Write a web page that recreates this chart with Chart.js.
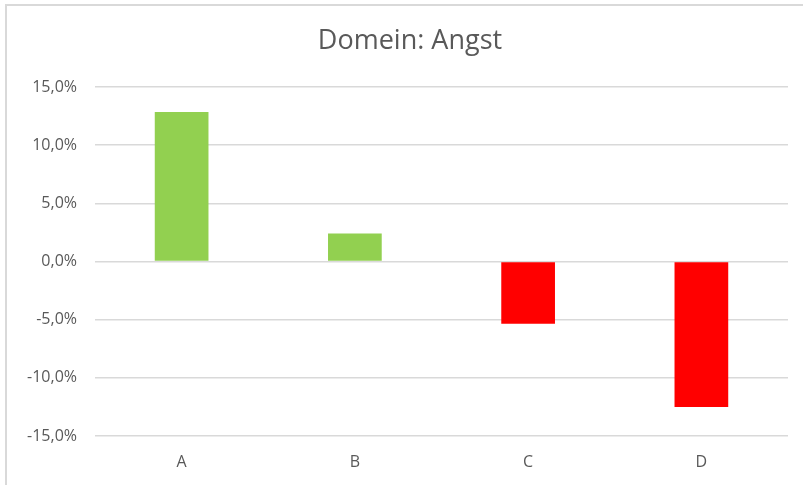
<!DOCTYPE html>
<html>
<head>
<meta charset="utf-8">
<script src="https://cdn.jsdelivr.net/npm/chart.js@4"></script>
<style>
html,body{margin:0;padding:0;background:#fff;}
#wrap{position:relative;width:803px;height:485px;overflow:hidden;}
#frame{position:absolute;left:5px;top:4px;width:900px;height:600px;border:2px solid #d9d9d9;box-sizing:border-box;pointer-events:none;}
canvas{position:absolute;left:0;top:0;}
</style>
</head>
<body>
<div id="wrap">
<canvas id="c" width="803" height="485"></canvas>
<div id="frame"></div>
</div>
<script>
const chartTitle = "Domein: Angst";
const categories = ["A", "B", "C", "D"];
const values = [12.85, 2.4, -5.35, -12.5];
const barColors = ["#92d050", "#92d050", "#ff0000", "#ff0000"];
const yMin = -15, yMax = 15, yStep = 5;

const fontFamily = "'Open Sans', 'Noto Sans', sans-serif";

// Title drawn centred on the (partly off-screen) chart frame
const titlePlugin = {
  id: 'frameTitle',
  afterDraw(chart) {
    const ctx = chart.ctx;
    ctx.save();
    ctx.font = "normal 27px " + fontFamily;
    ctx.fillStyle = '#595959';
    ctx.textAlign = 'center';
    ctx.textBaseline = 'middle';
    ctx.fillText(chartTitle, 410, 41);
    ctx.restore();
  }
};

new Chart(document.getElementById('c'), {
  type: 'bar',
  data: {
    labels: categories,
    datasets: [{
      data: values,
      backgroundColor: barColors,
      borderWidth: 0,
      barPercentage: 0.62,
      categoryPercentage: 0.5
    }]
  },
  options: {
    responsive: false,
    animation: false,
    devicePixelRatio: 1,
    layout: { padding: { left: 0, right: 15, top: 87, bottom: 0 } },
    plugins: {
      legend: { display: false },
      tooltip: { enabled: false },
      title: { display: false }
    },
    scales: {
      x: {
        afterFit: (s) => { s.height = 49; },
        grid: { display: false, drawTicks: false },
        border: { display: false },
        ticks: { color: '#595959', font: { family: fontFamily, size: 16 }, padding: 17 }
      },
      y: {
        min: yMin, max: yMax,
        afterFit: (s) => { s.width = 95; },
        grid: { color: '#d9d9d9', lineWidth: 1.5, drawTicks: false },
        border: { display: false },
        ticks: {
          stepSize: yStep,
          color: '#595959',
          font: { family: fontFamily, size: 16 },
          padding: 18,
          callback: (v) => v.toFixed(1).replace('.', ',') + '%'
        }
      }
    }
  },
  plugins: [titlePlugin]
});
</script>
</body>
</html>
